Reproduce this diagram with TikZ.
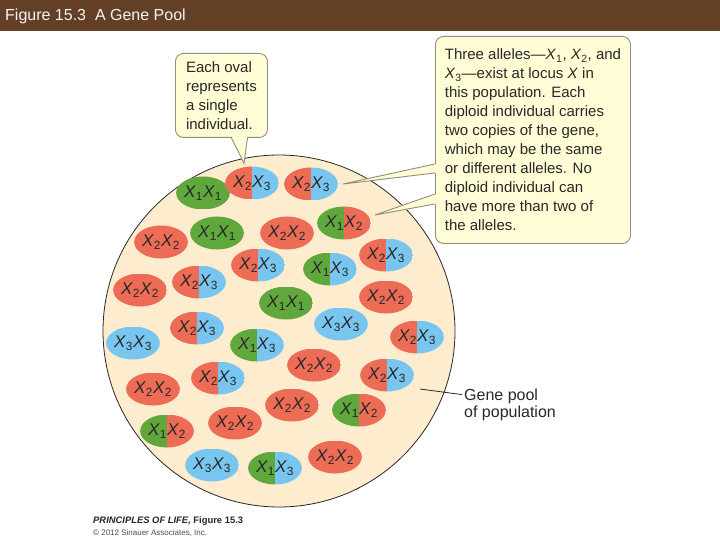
\documentclass[tikz,border=0pt]{standalone}
\usepackage{fontspec}
\setmainfont{Liberation Sans}
\usetikzlibrary{shapes.geometric,calc}
\tikzset{>=stealth}
\definecolor{headbrown}{RGB}{99,64,37}
\definecolor{poolfill}{RGB}{253,236,206}
\definecolor{notefill}{RGB}{255,252,214}
\definecolor{noteline}{RGB}{150,140,118}
\definecolor{ovalred}{RGB}{236,108,86}
\definecolor{ovalblue}{RGB}{120,198,240}
\definecolor{ovalgreen}{RGB}{96,168,60}
\definecolor{inkgray}{RGB}{40,40,40}
\newcommand\allele[1]{\textit{X}\textsubscript{#1}}
\tikzset{
  indiv/.style 2 args={ellipse, minimum width=48pt, minimum height=33pt, inner sep=0pt,
    text=inkgray, font=\fontsize{17}{19}\selectfont,
    path picture={\fill[#1] (path picture bounding box.south west) rectangle (path picture bounding box.north);
      \fill[#2] (path picture bounding box.south) rectangle (path picture bounding box.north east);}},
  note/.style={draw=noteline, fill=notefill, rounded corners=8pt, line width=0.9pt, align=left,
    inner sep=0pt, text=inkgray, font=\fontsize{15}{19}\selectfont},
  tail/.style={draw=noteline, line width=0.9pt},
}

\begin{document}
\begin{tikzpicture}[x=1pt,y=-1pt]
\useasboundingbox (0,0) rectangle (720,540);
\fill[headbrown] (0,0) rectangle (720,31);
\node[anchor=west, inner sep=0pt, text=white!94!headbrown, font=\fontsize{16}{18}\selectfont] (title) at (5,16) {Figure 15.3\ \ A Gene Pool};
\draw[fill=poolfill, draw=inkgray, line width=0.8pt] (279,331) circle (176pt);
\node[indiv={ovalgreen}{ovalgreen}] (o1) at (203,193) {\allele1\allele1};
\node[indiv={ovalred}{ovalblue}] (o2) at (252,183) {\allele2\allele3};
\node[indiv={ovalred}{ovalblue}] (o3) at (311,184) {\allele2\allele3};
\node[indiv={ovalgreen}{ovalred}] (o4) at (344,223) {\allele1\allele2};
\node[indiv={ovalgreen}{ovalgreen}] (o5) at (217,233) {\allele1\allele1};
\node[indiv={ovalred}{ovalred}] (o6) at (161,242) {\allele2\allele2};
\node[indiv={ovalred}{ovalred}] (o7) at (287,233) {\allele2\allele2};
\node[indiv={ovalred}{ovalblue}] (o8) at (258,265) {\allele2\allele3};
\node[indiv={ovalred}{ovalblue}] (o9) at (386,255) {\allele2\allele3};
\node[indiv={ovalred}{ovalred}] (o10) at (140,290) {\allele2\allele2};
\node[indiv={ovalred}{ovalblue}] (o11) at (199,282) {\allele2\allele3};
\node[indiv={ovalgreen}{ovalblue}] (o12) at (330,269) {\allele1\allele3};
\node[indiv={ovalgreen}{ovalgreen}] (o13) at (286,303) {\allele1\allele1};
\node[indiv={ovalred}{ovalred}] (o14) at (386,297) {\allele2\allele2};
\node[indiv={ovalblue}{ovalblue}] (o15) at (133,343) {\allele3\allele3};
\node[indiv={ovalred}{ovalblue}] (o16) at (197,328) {\allele2\allele3};
\node[indiv={ovalblue}{ovalblue}] (o17) at (341,324) {\allele3\allele3};
\node[indiv={ovalred}{ovalblue}] (o18) at (417,337) {\allele2\allele3};
\node[indiv={ovalgreen}{ovalblue}] (o19) at (257,345) {\allele1\allele3};
\node[indiv={ovalred}{ovalred}] (o20) at (314,365) {\allele2\allele2};
\node[indiv={ovalred}{ovalblue}] (o21) at (387,375) {\allele2\allele3};
\node[indiv={ovalred}{ovalred}] (o22) at (153,389) {\allele2\allele2};
\node[indiv={ovalred}{ovalblue}] (o23) at (218,378) {\allele2\allele3};
\node[indiv={ovalred}{ovalred}] (o24) at (292,405) {\allele2\allele2};
\node[indiv={ovalgreen}{ovalred}] (o25) at (359,410) {\allele1\allele2};
\node[indiv={ovalgreen}{ovalred}] (o26) at (167,431) {\allele1\allele2};
\node[indiv={ovalred}{ovalred}] (o27) at (235,423) {\allele2\allele2};
\node[indiv={ovalblue}{ovalblue}] (o28) at (212,465) {\allele3\allele3};
\node[indiv={ovalgreen}{ovalblue}] (o29) at (275,468) {\allele1\allele3};
\node[indiv={ovalred}{ovalred}] (o30) at (335,457) {\allele2\allele2};
\node[note, minimum width=92pt, minimum height=84pt, anchor=north west] (note1) at (175,53) {Each oval\\represents\\a single\\individual.};
\node[note, minimum width=195pt, minimum height=207pt, anchor=north west] (note2) at (435,36) {Three alleles—\allele1, \allele2, and\\\allele3—exist at locus \textit{X} in\\this population. Each\\diploid individual carries\\two copies of the gene,\\which may be the same\\or different alleles. No\\diploid individual can\\have more than two of\\the alleles.};
\coordinate (tip1) at ($(o2.north)+(-8,-3)$);
\coordinate (tip2) at ($(o3.east)+(5,0)$);
\coordinate (tip3) at ($(o4.east)+(4,-8)$);
\fill[notefill] ($(note1.south)+(10,-1.5)$) -- (tip1) -- ($(note1.south)+(26,-1.5)$) -- cycle;
\draw[tail] ($(note1.south)+(10,0)$) -- (tip1) -- ($(note1.south)+(26,0)$);
\fill[notefill] ($(note2.west)+(1.5,24)$) -- (tip2) -- ($(note2.west)+(1.5,33)$) -- cycle;
\draw[tail] ($(note2.west)+(0,24)$) -- (tip2) -- ($(note2.west)+(0,33)$);
\fill[notefill] ($(note2.west)+(1.5,54)$) -- (tip3) -- ($(note2.west)+(1.5,64)$) -- cycle;
\draw[tail] ($(note2.west)+(0,54)$) -- (tip3) -- ($(note2.west)+(0,64)$);
\node[anchor=west, align=left, inner sep=0pt, text=inkgray, font=\fontsize{16}{17.5}\selectfont] (poollabel) at (464,405) {Gene pool\\of population};
\coordinate (poolpin) at (420,389);
\draw[inkgray, line width=0.8pt] (poolpin) -- ($(poollabel.north west)+(-2,6)$);
\node[anchor=west, inner sep=0pt, text=black!85, font=\fontsize{9.4}{11}\selectfont\bfseries] (credit) at (93,521) {\textit{PRINCIPLES OF LIFE,} Figure 15.3};
\node[anchor=west, inner sep=0pt, text=black!70, font=\fontsize{8}{10}\selectfont] (copyright) at (93,533) {© 2012 Sinauer Associates, Inc.};
\end{tikzpicture}
\end{document}
